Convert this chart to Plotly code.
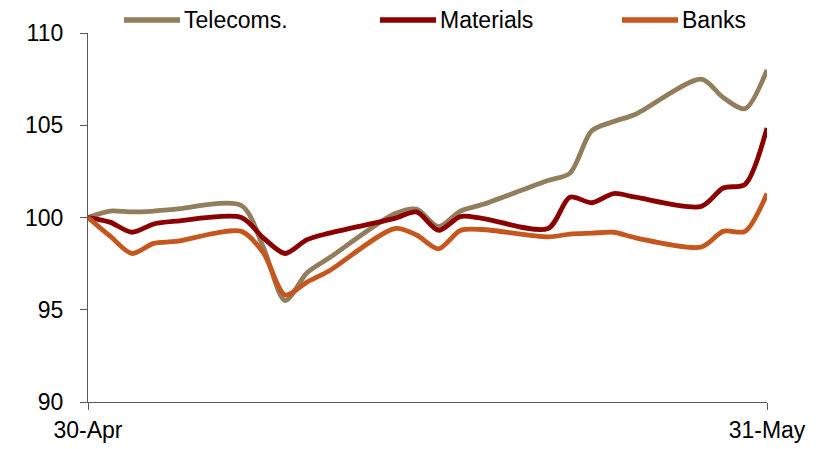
import plotly.graph_objects as go

dates = [
    "2012-04-30", "2012-05-01", "2012-05-02", "2012-05-03", "2012-05-04",
    "2012-05-07", "2012-05-08", "2012-05-09", "2012-05-10", "2012-05-11",
    "2012-05-14", "2012-05-15", "2012-05-16", "2012-05-17", "2012-05-18",
    "2012-05-21", "2012-05-22", "2012-05-23", "2012-05-24", "2012-05-25",
    "2012-05-28", "2012-05-29", "2012-05-30", "2012-05-31",
]
telecoms = [100.0, 100.35, 100.3, 100.35, 100.45, 100.65, 98.4, 95.5, 97.0, 97.8,
            100.2, 100.45, 99.5, 100.35, 100.7, 102.0, 102.4, 104.7, 105.2, 105.6,
            107.5, 106.5, 105.9, 108.0]
materials = [100.0, 99.75, 99.2, 99.65, 99.8, 100.0, 98.9, 98.05, 98.8, 99.15,
             99.95, 100.3, 99.3, 100.05, 99.95, 99.4, 101.1, 100.8, 101.3, 101.1,
             100.6, 101.6, 101.8, 104.85]
banks = [100.0, 99.0, 98.05, 98.6, 98.7, 99.25, 98.1, 95.8, 96.5, 97.1,
         99.4, 99.05, 98.3, 99.3, 99.35, 98.95, 99.1, 99.15, 99.2, 98.9,
         98.4, 99.25, 99.25, 101.3]

series_names = ["Telecoms.", "Materials", "Banks"]
x_ticks = ["2012-04-30", "2012-05-31"]
x_labels = ["30-Apr", "31-May"]
y_ticks = [90, 95, 100, 105, 110]

COLORS = {"Telecoms.": "#927D5C", "Materials": "#8B0000", "Banks": "#C5561E"}
FONT = "Liberation Sans, Arial, sans-serif"

fig = go.Figure()
for name, vals in zip(series_names, [telecoms, materials, banks]):
    fig.add_trace(go.Scatter(
        x=dates, y=vals, mode="lines", name=name, showlegend=False,
        line=dict(color=COLORS[name], width=4.8, shape="spline", smoothing=0.8),
    ))

# hand-made legend across the top (longer line samples than plotly's own)
plot_l, plot_w = 88, 679
leg_y = 1 + 13 / 369
for name, x0 in zip(series_names, [124, 380, 622]):
    fig.add_shape(type="line", xref="paper", yref="paper",
                  x0=(x0 - plot_l) / plot_w, x1=(x0 + 56 - plot_l) / plot_w,
                  y0=leg_y, y1=leg_y, line=dict(color=COLORS[name], width=5.5))
    fig.add_annotation(xref="paper", yref="paper", x=(x0 + 59 - plot_l) / plot_w, y=leg_y,
                       xanchor="left", yanchor="middle", text=name, showarrow=False,
                       borderpad=0, font=dict(size=23, color="#000000"))

# the page body has an 8px margin, so the figure is 8px smaller each way
fig.update_layout(
    width=811, height=441,
    margin=dict(l=80, r=52, t=25, b=47),
    plot_bgcolor="#ffffff", paper_bgcolor="#ffffff",
    font=dict(family=FONT, size=23, color="#000000"),
    showlegend=False,
)
fig.update_xaxes(
    type="date", range=["2012-04-30", "2012-05-31"], automargin=False,
    tickvals=x_ticks, ticktext=x_labels, ticks="outside", ticklen=7,
    tickcolor="#595959", showline=True, linecolor="#595959", linewidth=1.3,
    showgrid=False, zeroline=False, tickfont=dict(size=23),
)
fig.update_yaxes(
    range=[90, 110], tickvals=y_ticks, ticks="outside", ticklen=7, automargin=False,
    tickcolor="#595959", showline=True, linecolor="#595959", linewidth=1.3,
    showgrid=False, zeroline=False, tickfont=dict(size=23), ticklabelstandoff=12,
)

fig.write_html("out.html")
